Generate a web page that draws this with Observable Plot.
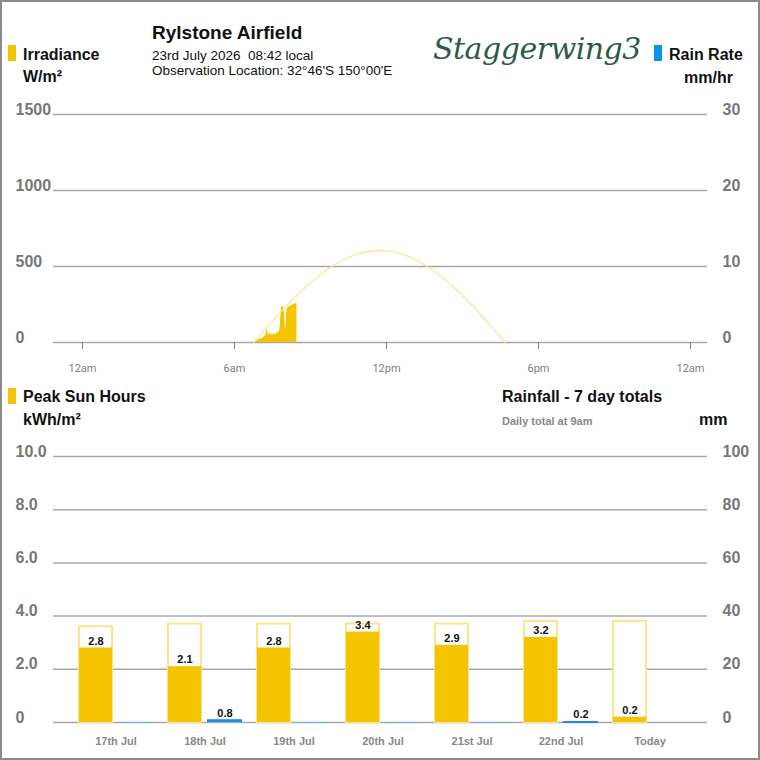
<!DOCTYPE html>
<html>
<head>
<meta charset="utf-8">
<script src="https://cdn.jsdelivr.net/npm/d3@7"></script>
<script src="https://cdn.jsdelivr.net/npm/@observablehq/plot@0.6"></script>
<style>
  body { margin: 0; background: #fff; font-family: "Liberation Sans", Arial, sans-serif; }
  #wrap { position: relative; width: 760px; height: 760px; overflow: hidden; background: #fff; }
  #frame { position: absolute; left: 0; top: 0; width: 760px; height: 760px; box-sizing: border-box; border: 2px solid #8a8a8a; pointer-events: none; z-index: 5; }
  .t { position: absolute; white-space: pre; line-height: 1; color: #111; }
  .b { font-weight: bold; }
  .sw { position: absolute; width: 8px; height: 16px; }
  .plot { position: absolute; left: 0; }
</style>
</head>
<body>
<div id="wrap">
  <div id="frame"></div>
  <div class="sw" style="left:8px;top:45px;background:#f5c400"></div>
  <div class="t b" style="left:23px;top:47px;font-size:16px">Irradiance</div>
  <div class="t b" style="left:23px;top:69px;font-size:16px">W/m²</div>
  <div class="t b" style="left:152px;top:22.5px;font-size:19px">Rylstone Airfield</div>
  <div class="t" style="left:152px;top:49px;font-size:13.5px">23rd July 2026  08:42 local</div>
  <div class="t" style="left:152px;top:64px;font-size:13.5px">Observation Location: 32°46'S 150°00'E</div>
  <div class="t" style="left:433px;top:34px;font-size:30px;font-family:'DejaVu Serif',serif;font-style:italic;color:#2e5b48;letter-spacing:-0.5px">Staggerwing3</div>
  <div class="sw" style="left:654px;top:45px;background:#0a96e6"></div>
  <div class="t b" style="left:669px;top:47px;font-size:16px">Rain Rate</div>
  <div class="t b" style="left:684px;top:70px;font-size:16px">mm/hr</div>

  <div class="sw" style="left:8px;top:388px;background:#f5c400"></div>
  <div class="t b" style="left:23px;top:389px;font-size:16px">Peak Sun Hours</div>
  <div class="t b" style="left:23px;top:412px;font-size:16px">kWh/m²</div>
  <div class="t b" style="left:502px;top:389px;font-size:16px">Rainfall - 7 day totals</div>
  <div class="t b" style="left:502px;top:415.5px;font-size:11px;color:#888">Daily total at 9am</div>
  <div class="t b" style="left:699px;top:412px;font-size:16px">mm</div>
</div>
<script>
// ---------- Top chart data ----------
const hourTicks = [0, 6, 12, 18, 24];
const hourLabels = ["12am", "6am", "12pm", "6pm", "12am"];
const irrTicks = [0, 500, 1000, 1500];
const rainRateTicks = [0, 10, 20, 30];

// measured irradiance, 2-minute readings from 07:00 to 08:42 (W/m²)
const irrStartHour = 7;
const irrStepMinutes = 2;
const irradiance = [2, 4, 6, 8, 10, 14, 20, 18, 24, 28, 22, 30, 36, 45, 40, 70, 92, 55, 48, 62,
  50, 58, 45, 52, 60, 48, 55, 62, 58, 66, 72, 85, 180, 232, 240, 225, 230, 120, 80, 210,
  225, 232, 236, 240, 238, 244, 246, 250, 248, 254, 256, 260];

// clear-sky (expected) irradiance curve, read at half-hour points
const clearSkyHours = [7, 7.5, 8, 8.5, 9, 9.5, 10, 10.5, 11, 11.5, 12, 12.5, 13, 13.5, 14, 14.5, 15, 15.5, 16, 16.5, 16.93];
const clearSkyValues = [0, 96, 188, 277, 358, 430, 492, 541, 577, 598, 605, 597, 573, 535, 483, 420, 347, 265, 176, 82, 0];

// ---------- Bottom chart data ----------
const days = ["17th Jul", "18th Jul", "19th Jul", "20th Jul", "21st Jul", "22nd Jul", "Today"];
const sunHours = [2.8, 2.1, 2.8, 3.4, 2.9, 3.2, 0.2];
const sunMax = [3.6, 3.7, 3.7, 3.7, 3.7, 3.8, 3.8];
const rainfall = [0, 0.8, 0, 0, 0, 0.2, null];
const sunTicks = [0, 2, 4, 6, 8, 10];
const rainTicks = [0, 20, 40, 60, 80, 100];
const rainPerSun = 10; // right axis (mm) = left axis (kWh/m²) × 10

const GOLD = "#f5c400", PALE = "#ffe38c", BLUE = "#1a8fe0", GRID = "#a8a8a8", TICKTXT = "#777";
const FONT = "'Liberation Sans', Arial, sans-serif";

const irrData = irradiance.map((v, k) => ({ h: irrStartHour + k * irrStepMinutes / 60, v }));
const clearSky = clearSkyHours.map((h, i) => ({ h, v: clearSkyValues[i] }));

const topChart = Plot.plot({
  width: 760, height: 295,
  marginLeft: 53, marginRight: 53, marginTop: 24, marginBottom: 43,
  style: { fontFamily: FONT, background: "transparent", overflow: "visible" },
  x: { domain: [-0.908, 24.908] },
  y: { domain: [0, 1500] },
  marks: [
    Plot.ruleY(irrTicks, { stroke: GRID, strokeWidth: 1.5 }),
    Plot.areaY(irrData, { x: "h", y: "v", fill: GOLD, curve: "linear" }),
    Plot.lineY(clearSky, { x: "h", y: "v", stroke: PALE, strokeWidth: 1.2, curve: "natural" }),
    Plot.axisX({ ticks: hourTicks, tickFormat: d => hourLabels[hourTicks.indexOf(d)], tickSize: 7, tickPadding: 15,
      dx: 6, fontSize: 11, fontFamily: "Roboto, sans-serif", color: "#808080", label: null }),
    Plot.axisY({ anchor: "left", ticks: irrTicks, tickFormat: d => String(d), tickSize: 0, tickPadding: 38, textAnchor: "start", dy: -5,
      fontSize: 16, fontWeight: "bold", color: TICKTXT, label: null }),
    Plot.axisY({ anchor: "right", ticks: irrTicks, tickFormat: d => String(rainRateTicks[irrTicks.indexOf(d)]),
      tickSize: 0, tickPadding: 15, textAnchor: "start", dy: -5, fontSize: 16, fontWeight: "bold", color: TICKTXT, label: null })
  ]
});
topChart.classList.add("plot");
topChart.style.position = "absolute";
topChart.style.top = "90px";
document.getElementById("wrap").appendChild(topChart);

const daily = days.map((day, i) => ({ day, sun: sunHours[i], max: sunMax[i], rain: rainfall[i] }));

const bottomChart = Plot.plot({
  width: 760, height: 330,
  marginLeft: 53, marginRight: 53, marginTop: 26, marginBottom: 38,
  style: { fontFamily: FONT, background: "transparent", overflow: "visible" },
  x: { type: "band", domain: days, paddingInner: 0.157, paddingOuter: 0.2526, align: 0.556 },
  y: { domain: [0, 10] },
  marks: [
    Plot.ruleY(sunTicks, { stroke: GRID, strokeWidth: 1.5 }),
    Plot.barY(daily, { x: "day", y: "max", fill: "white", stroke: PALE, strokeWidth: 2, insetLeft: 1, insetRight: 41 }),
    Plot.barY(daily, { x: "day", y: "sun", fill: GOLD, insetLeft: 1, insetRight: 41 }),
    Plot.tickY(daily.filter(d => d.rain === 0), { x: "day", y: 0, stroke: "#6fb4e0", strokeWidth: 1.2, insetLeft: 40 }),
    Plot.barY(daily.filter(d => d.rain > 0), { x: "day", y: d => d.rain / rainPerSun, fill: BLUE, insetLeft: 40 }),
    Plot.tickY(daily.filter(d => d.rain > 0), { x: "day", y: d => d.rain / rainPerSun, stroke: BLUE, strokeWidth: 2, insetLeft: 40 }),
    Plot.text(daily, { x: "day", y: "sun", text: d => d.sun.toFixed(1), dx: -20, dy: -7, fontSize: 11, fontWeight: "bold", fill: "#111" }),
    Plot.text(daily.filter(d => d.rain > 0), { x: "day", y: d => d.rain / rainPerSun, text: d => d.rain.toFixed(1), dx: 20, dy: -7, fontSize: 11, fontWeight: "bold", fill: "#111" }),
    Plot.axisX({ tickSize: 0, tickPadding: 15, fontSize: 11, fontWeight: "bold", color: "#888", label: null }),
    Plot.axisY({ anchor: "left", ticks: sunTicks, tickFormat: d => d === 0 ? "0" : d.toFixed(1), tickSize: 0, tickPadding: 38,
      textAnchor: "start", dy: -5, fontSize: 16, fontWeight: "bold", color: TICKTXT, label: null }),
    Plot.axisY({ anchor: "right", ticks: sunTicks, tickFormat: d => String(rainTicks[sunTicks.indexOf(d)]), tickSize: 0, tickPadding: 15,
      textAnchor: "start", dy: -5, fontSize: 16, fontWeight: "bold", color: TICKTXT, label: null })
  ]
});
bottomChart.classList.add("plot");
bottomChart.style.position = "absolute";
bottomChart.style.top = "430px";
document.getElementById("wrap").appendChild(bottomChart);
</script>
</body>
</html>
